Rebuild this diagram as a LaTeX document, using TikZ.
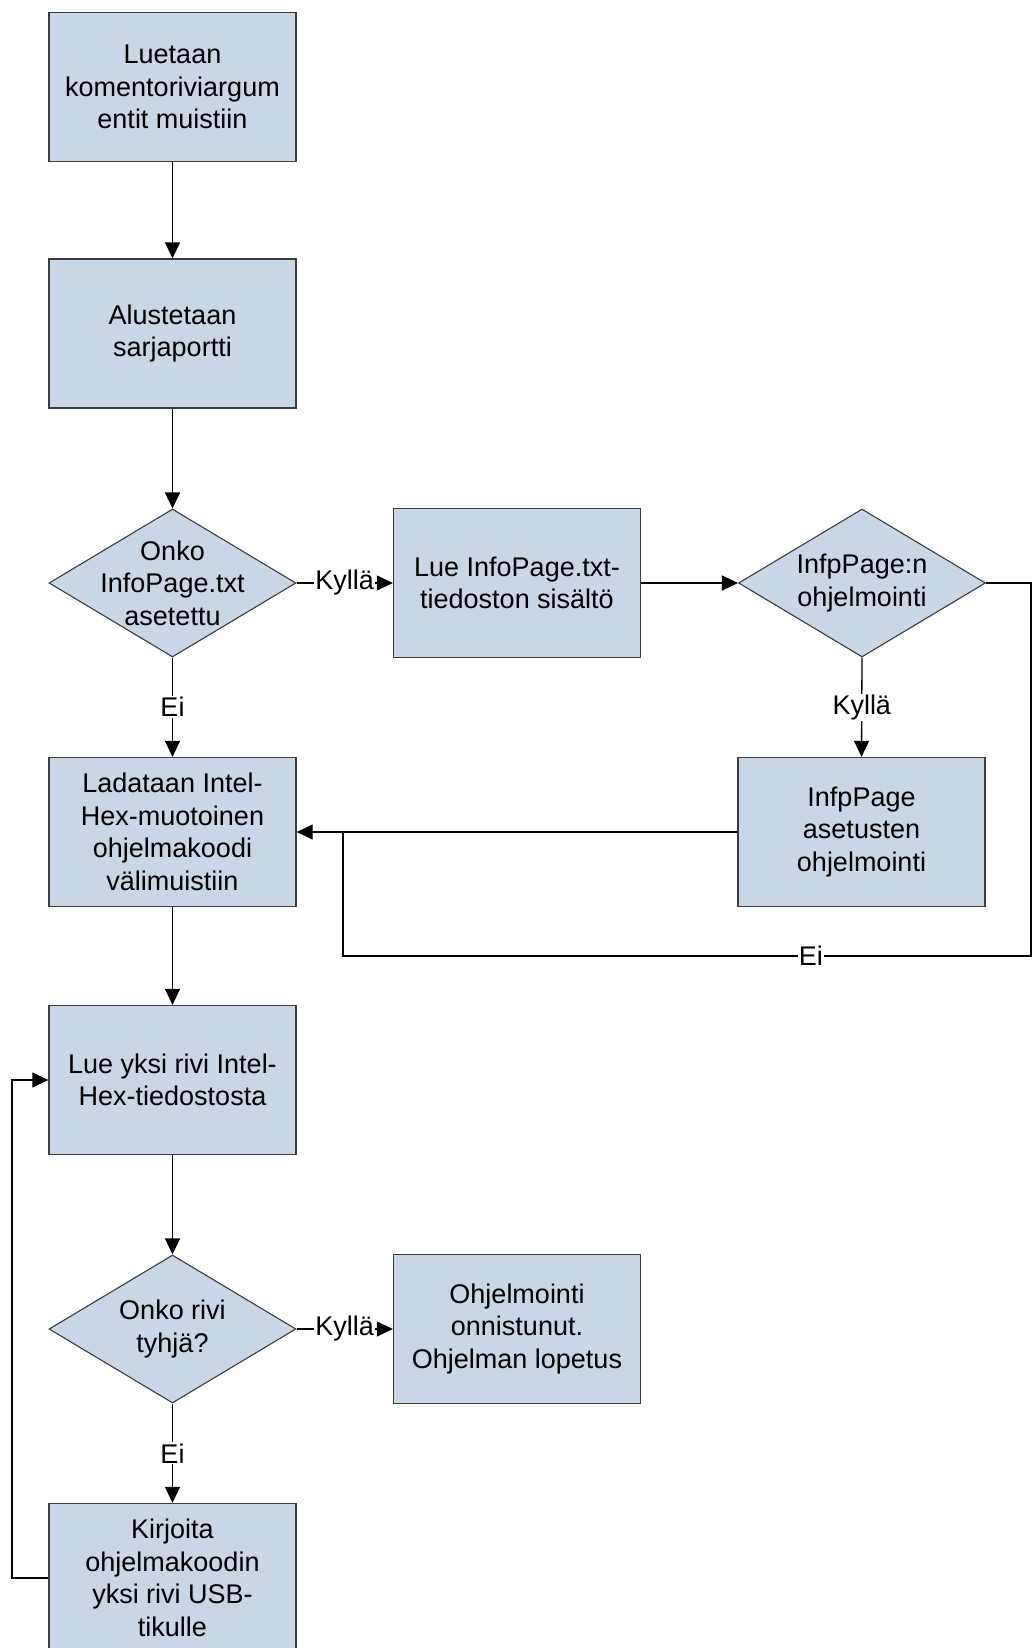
\documentclass[tikz,border=0pt]{standalone}
\usepackage{fontspec}
\setmainfont{Liberation Sans}
\usetikzlibrary{arrows.meta,shapes.geometric}
\definecolor{boxfill}{HTML}{C9D6E5}
\definecolor{boxline}{HTML}{3C3C3C}
\begin{document}
\begin{tikzpicture}[x=1pt,y=-1pt,
  txt/.style={font=\fontsize{27}{32.5}\selectfont},
  proc/.style={draw=boxline, fill=boxfill, line width=1.3pt, minimum width=247pt, minimum height=149pt, inner sep=0pt, align=center, txt},
  dec/.style={draw=boxline, fill=boxfill, line width=1.1pt, shape=diamond, minimum width=247pt, minimum height=148pt, inner sep=0pt},
  dtxt/.style={txt, align=center},
  arr/.style={line width=1.3pt, -{Triangle[length=16pt,width=15pt]}},
  ln/.style={line width=1.3pt},
  lab/.style={fill=white, inner sep=1pt, txt}]
\useasboundingbox (0,0) rectangle (1032,1648);
\clip (0,0) rectangle (1032,1648);

\node[proc] (n1) at (172.5,87) {Luetaan\\komentoriviargum\\entit muistiin};
\node[proc] (n2) at (172.5,333.5) {Alustetaan\\sarjaportti};
\node[dec, label={[dtxt]center:Onko\\InfoPage.txt\\asetettu}] (d1) at (172.5,583) {};
\node[proc] (n3) at (517,583) {Lue InfoPage.txt-\\tiedoston sisältö};
\node[dec, label={[dtxt]center:InfpPage:n\\ohjelmointi}] (d2) at (862,583) {};
\node[proc] (n4) at (172.5,832) {Ladataan Intel-\\Hex-muotoinen\\ohjelmakoodi\\välimuistiin};
\node[proc] (n5) at (861.5,832) {InfpPage\\asetusten\\ohjelmointi};
\node[proc] (n6) at (172.5,1080) {Lue yksi rivi Intel-\\Hex-tiedostosta};
\node[dec, label={[dtxt]center:Onko rivi\\tyhjä?}] (d3) at (172.5,1329) {};
\node[proc] (n7) at (517,1329) {Ohjelmointi\\onnistunut.\\Ohjelman lopetus};
\node[proc] (n8) at (172.5,1578) {Kirjoita\\ohjelmakoodin\\yksi rivi USB-\\tikulle};

\coordinate (c1) at (1031,583);
\coordinate (c2) at (1031,956);
\coordinate (c3) at (343,956);
\coordinate (c4) at (343,832);
\coordinate (c5) at (12,1578);
\coordinate (c6) at (12,1080);

\draw[arr] (n1) -- (n2);
\draw[arr] (n2) -- (d1);
\draw[arr] (d1.east) -- node[lab]{Kyllä} (n3.west);
\draw[arr] (d1.south) -- node[lab]{Ei} (n4.north);
\draw[arr] (n3.east) -- (d2.west);
\draw[arr] (d2.south) -- node[lab]{Kyllä} (n5.north);
\draw[arr] (n5.west) -- (n4.east);
\draw[ln] (d2.east) -- (c1) -- (c2) -- node[lab,pos=0.32]{Ei} (c3) -- (c4);
\draw[arr] (n4) -- (n6);
\draw[arr] (n6) -- (d3);
\draw[arr] (d3.east) -- node[lab]{Kyllä} (n7.west);
\draw[arr] (d3.south) -- node[lab]{Ei} (n8.north);
\draw[arr] (n8.west) -- (c5) -- (c6) -- (n6.west);
\end{tikzpicture}
\end{document}
